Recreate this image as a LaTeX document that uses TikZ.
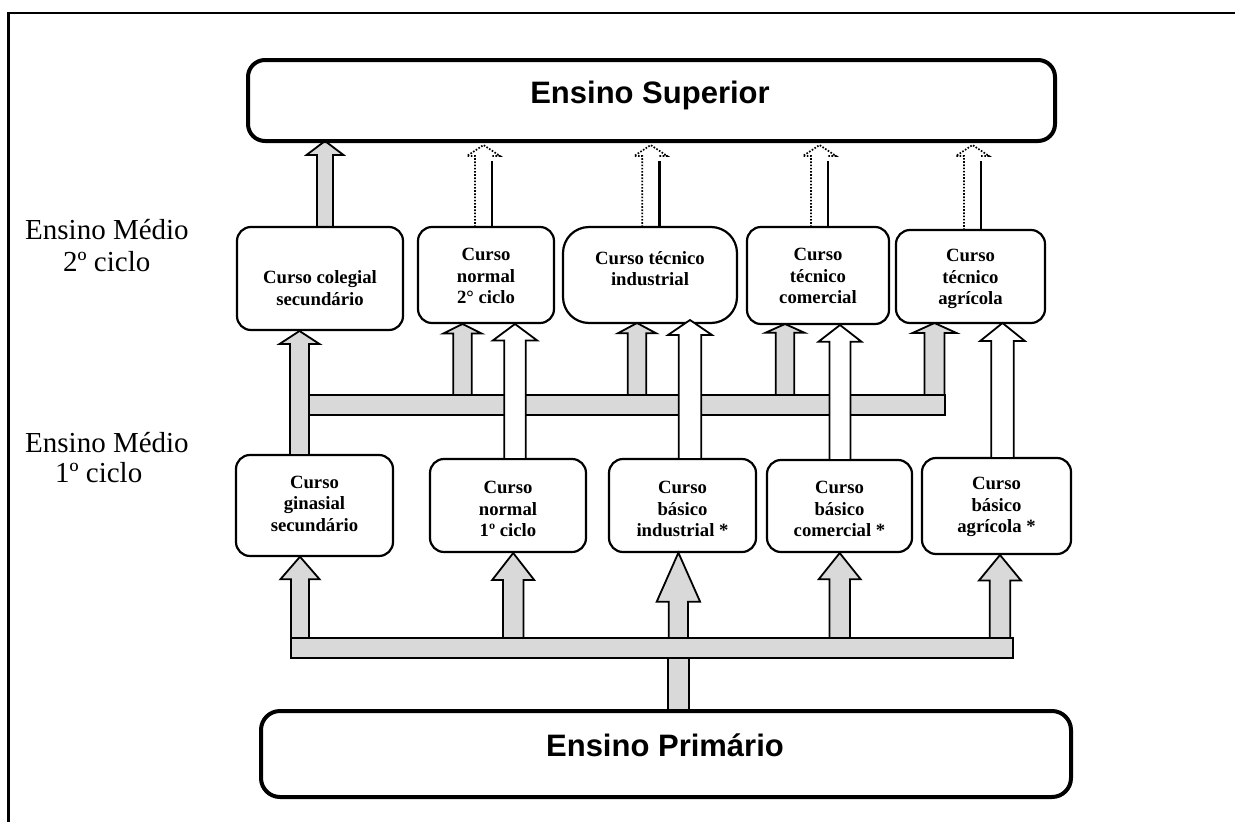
\documentclass[tikz,border=0pt]{standalone}
\usepackage{fontspec}
\setmainfont{Liberation Serif}
\newfontfamily\arialfont{Liberation Sans}
\usetikzlibrary{calc}
\definecolor{barfill}{RGB}{217,217,217}
\pgfdeclarelayer{bg}
\pgfdeclarelayer{fg}
\pgfsetlayers{bg,main,fg}
\tikzset{
  frameline/.style={line width=2.4pt},
  box/.style={draw, line width=2.2pt, rounded corners=14pt, fill=white, inner sep=0pt, outer sep=0pt},
  bigbox/.style={draw, line width=4pt, rounded corners=17pt, fill=white, inner sep=0pt, outer sep=0pt},
  barstyle/.style={draw, line width=1.8pt, fill=barfill, inner sep=0pt, outer sep=0pt},
  boxtext/.style={font=\bfseries\fontsize{18.7}{21.5}\selectfont, align=center, inner sep=0pt, outer sep=0pt},
  bigtext/.style={font=\arialfont\bfseries\fontsize{31}{36}\selectfont, inner sep=0pt, anchor=base},
  lvltext/.style={font=\fontsize{29}{34}\selectfont, align=left, inner sep=0pt, anchor=north west},
  grayarrow/.style={draw, line width=1.8pt, fill=barfill, line join=miter},
  whitearrow/.style={draw, line width=1.8pt, fill=white, line join=miter},
  dotline/.style={line width=1.7pt, dash pattern=on 1.6pt off 1.6pt},
  solidline/.style={line width=2.6pt},
}
% #1 style, #2 from, #3 to, #4 centre x, #5 shaft half width, #6 head half width, #7 head length, #8 apex offset
\newcommand{\blockarrow}[8]{%
  \draw[#1] let \p1=(#2), \p2=(#3) in
    ({(#4-#5)*1pt},\y1) -- ({(#4-#5)*1pt},{\y2-(#8+#7)*1pt})
    -- ({(#4-#6)*1pt},{\y2-(#8+#7)*1pt}) -- ({#4*1pt},{\y2-(#8)*1pt})
    -- ({(#4+#6)*1pt},{\y2-(#8+#7)*1pt}) -- ({(#4+#5)*1pt},{\y2-(#8+#7)*1pt})
    -- ({(#4+#5)*1pt},\y1) -- cycle;}
% #1 from, #2 to, #3 centre x
\newcommand{\dottedarrow}[3]{%
  \draw[dotline] let \p1=(#1), \p2=(#2) in
    ({(#3-8.5)*1pt},\y1) -- ({(#3-8.5)*1pt},{\y2-15pt})
    -- ({(#3-16.5)*1pt},{\y2-15pt}) -- ({#3*1pt},{\y2-4pt})
    -- ({(#3+16.5)*1pt},{\y2-15pt}) -- ({(#3+8.5)*1pt},{\y2-15pt});
  \draw[solidline] let \p1=(#1), \p2=(#2) in
    ({(#3+8.5)*1pt},\y1) -- ({(#3+8.5)*1pt},{\y2-19.5pt});}
\begin{document}
\begin{tikzpicture}[x=1pt,y=-1pt]
\useasboundingbox (0,0) rectangle (1235,822);
\draw[frameline] (8.5,840) -- (8.5,13) -- (1250,13);

% big boxes
\node[bigbox, minimum width=807pt, minimum height=81pt] (Sup) at (651.5,100.5) {};
\node[bigtext] (SupT) at (650,103.5) {Ensino Superior};
\node[bigbox, rounded corners=19pt, minimum width=810pt, minimum height=86pt] (Prim) at (666,754) {};
\node[bigtext] (PrimT) at (665,756.7) {Ensino Primário};

% level labels
\node[lvltext] (L2) at (25,219) {Ensino Médio\\[-2pt]\hspace*{38pt}2º ciclo};
\node[lvltext] (L1) at (25,432) {Ensino Médio\\[-4pt]\hspace*{30pt}1º ciclo};

% upper boxes (2º ciclo)
\node[box, minimum width=166pt, minimum height=103pt] (A) at (320,278.5) {};
\node[box, minimum width=136pt, minimum height=96pt] (B) at (486,275) {};
\node[box, rounded corners=26pt, minimum width=174pt, minimum height=96pt] (C) at (650,275) {};
\node[box, minimum width=142pt, minimum height=97pt] (D) at (818,275.5) {};
\node[box, minimum width=149pt, minimum height=93pt] (E) at (970.5,276.5) {};
\node[boxtext] (At) at (320,288) {Curso colegial\\secundário};
\node[boxtext] (Bt) at (486,276) {Curso\\normal\\2° ciclo};
\node[boxtext] (Ct) at (650,268.5) {Curso técnico\\industrial};
\node[boxtext] (Dt) at (818,276) {Curso\\técnico\\comercial};
\node[boxtext] (Et) at (970.5,279) {Curso\\técnico\\agrícola};

% lower boxes (1º ciclo)
\node[box, minimum width=157pt, minimum height=101pt] (F) at (314.5,505.5) {};
\node[box, minimum width=156pt, minimum height=93pt] (G) at (508,505.5) {};
\node[box, minimum width=147pt, minimum height=93pt] (H) at (682.5,505.5) {};
\node[box, minimum width=145pt, minimum height=92pt] (I) at (839.5,506) {};
\node[box, minimum width=149pt, minimum height=96pt] (J) at (996.5,506) {};
\node[boxtext] (Ft) at (314.5,503.5) {Curso\\ginasial\\secundário};
\node[boxtext] (Gt) at (508,509) {Curso\\normal\\1º ciclo};
\node[boxtext] (Ht) at (682.5,509) {Curso\\básico\\industrial *};
\node[boxtext] (It) at (839.5,509) {Curso\\básico\\comercial *};
\node[boxtext] (Jt) at (996.5,507) {Curso\\básico\\agrícola *};

% bars
\node[barstyle, minimum width=638pt, minimum height=20pt] (ubar) at (626,405) {};
\node[barstyle, minimum width=722pt, minimum height=20pt] (lbar) at (652,648) {};

\begin{pgfonlayer}{bg}
  \draw[barstyle] let \p1=(lbar.south), \p2=(Prim.north) in (668.3pt,\y1) rectangle (688.7pt,\y2);
  \blockarrow{grayarrow}{A.north}{Sup.south}{325}{8}{18.5}{14}{0}
  \dottedarrow{B.north}{Sup.south}{483.5}
  \dottedarrow{C.north}{Sup.south}{650.7}
  \dottedarrow{D.north}{Sup.south}{819.5}
  \dottedarrow{E.north}{Sup.south}{972.5}
  \blockarrow{grayarrow}{ubar.north}{B.south}{462.5}{9.2}{19.2}{9.5}{1}
  \blockarrow{grayarrow}{ubar.north}{C.south}{637}{9.2}{19.2}{10.3}{0}
  \blockarrow{grayarrow}{ubar.north}{D.south}{785}{9.2}{19.4}{8.7}{0}
  \blockarrow{grayarrow}{ubar.north}{E.south}{934.5}{10}{22}{10}{0}
\end{pgfonlayer}

\begin{pgfonlayer}{fg}
  \blockarrow{grayarrow}{F.north}{A.south}{299.5}{9.5}{20}{13}{1}
  \blockarrow{whitearrow}{G.north}{B.south}{515}{10.8}{22.2}{16.5}{1}
  \blockarrow{whitearrow}{H.north}{C.south}{690}{11.2}{22}{15}{-3}
  \blockarrow{whitearrow}{I.north}{D.south}{840}{10.5}{21.5}{16.7}{1}
  \blockarrow{whitearrow}{J.north}{E.south}{1002.5}{11.2}{22.3}{18}{0}
  \blockarrow{grayarrow}{lbar.north}{F.south}{300}{9}{19.6}{22.6}{0.7}
  \blockarrow{grayarrow}{lbar.north}{G.south}{513.2}{10.2}{21}{27}{1}
  \blockarrow{grayarrow}{lbar.north}{H.south}{678.4}{9.6}{21.7}{49}{0.7}
  \blockarrow{grayarrow}{lbar.north}{I.south}{839.7}{10.2}{21}{26.3}{1}
  \blockarrow{grayarrow}{lbar.north}{J.south}{1000}{10.3}{21}{25.5}{1}
\end{pgfonlayer}
\end{tikzpicture}
\end{document}
